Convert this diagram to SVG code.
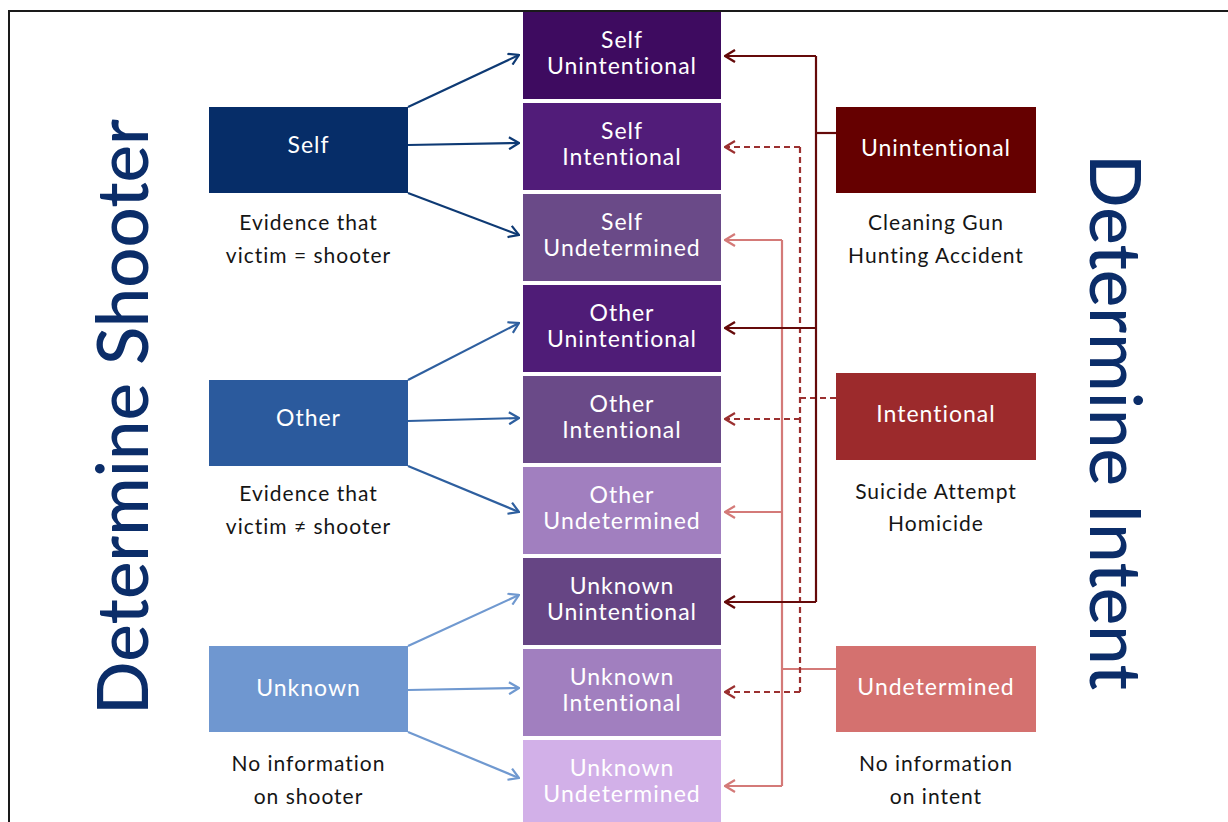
<svg xmlns="http://www.w3.org/2000/svg" width="1228" height="822" viewBox="0 0 1228 822">
<style>
.bt{font-family:"Lato","Liberation Sans",sans-serif;font-size:23px;fill:#ffffff;text-anchor:middle;letter-spacing:1px}
.cap{font-family:"Lato","Liberation Sans",sans-serif;font-size:21px;fill:#151515;text-anchor:middle;letter-spacing:1px}
.title{font-family:"Lato","Liberation Sans",sans-serif;font-size:72px;font-weight:500;fill:#0b2d69;text-anchor:middle}
.c{fill:none;stroke-width:2.2}
</style>
<defs>
<marker id="aS" viewBox="0 0 12 14" refX="11" refY="7" markerWidth="12" markerHeight="14" markerUnits="userSpaceOnUse" orient="auto"><path d="M1,1 L11,7 L1,13" fill="none" stroke="#0e3a74" stroke-width="2.2"/></marker>
<marker id="aO" viewBox="0 0 12 14" refX="11" refY="7" markerWidth="12" markerHeight="14" markerUnits="userSpaceOnUse" orient="auto"><path d="M1,1 L11,7 L1,13" fill="none" stroke="#2e5f9f" stroke-width="2.2"/></marker>
<marker id="aU" viewBox="0 0 12 14" refX="11" refY="7" markerWidth="12" markerHeight="14" markerUnits="userSpaceOnUse" orient="auto"><path d="M1,1 L11,7 L1,13" fill="none" stroke="#7099d0" stroke-width="2.2"/></marker>
<marker id="rU" viewBox="0 0 12 14" refX="11" refY="7" markerWidth="12" markerHeight="14" markerUnits="userSpaceOnUse" orient="auto"><path d="M1,1 L11,7 L1,13" fill="none" stroke="#650a0a" stroke-width="2.4"/></marker>
<marker id="rI" viewBox="0 0 12 14" refX="11" refY="7" markerWidth="12" markerHeight="14" markerUnits="userSpaceOnUse" orient="auto"><path d="M1,1 L11,7 L1,13" fill="none" stroke="#9b3030" stroke-width="2.2"/></marker>
<marker id="rD" viewBox="0 0 12 14" refX="11" refY="7" markerWidth="12" markerHeight="14" markerUnits="userSpaceOnUse" orient="auto"><path d="M1,1 L11,7 L1,13" fill="none" stroke="#d47a78" stroke-width="2.2"/></marker>
</defs>
<rect x="0" y="0" width="1228" height="822" fill="#ffffff"/>
<path d="M9,822 L9,11 L1228,11" fill="none" stroke="#1a1a1a" stroke-width="2"/>

<text class="title" transform="translate(148,417) rotate(-90)" textLength="596" lengthAdjust="spacingAndGlyphs">Determine Shooter</text>
<text class="title" transform="translate(1090,422) rotate(90)" textLength="536" lengthAdjust="spacingAndGlyphs">Determine Intent</text>

<g id="connectors">
<path class="c" stroke="#0e3a74" d="M408,107 L519,55" marker-end="url(#aS)"/>
<path class="c" stroke="#0e3a74" d="M408,145 L519,143" marker-end="url(#aS)"/>
<path class="c" stroke="#0e3a74" d="M408,193 L519,235" marker-end="url(#aS)"/>
<path class="c" stroke="#2e5f9f" d="M408,380 L519,323" marker-end="url(#aO)"/>
<path class="c" stroke="#2e5f9f" d="M408,421 L519,418" marker-end="url(#aO)"/>
<path class="c" stroke="#2e5f9f" d="M408,466 L519,512" marker-end="url(#aO)"/>
<path class="c" stroke="#7099d0" d="M408,646 L519,595" marker-end="url(#aU)"/>
<path class="c" stroke="#7099d0" d="M408,690 L519,688" marker-end="url(#aU)"/>
<path class="c" stroke="#7099d0" d="M408,732 L519,778" marker-end="url(#aU)"/>

<path class="c" stroke="#d47a78" d="M836,669 L782,669"/>
<path class="c" stroke="#d47a78" d="M782,240 L782,786"/>
<path class="c" stroke="#d47a78" d="M782,240 L725,240" marker-end="url(#rD)"/>
<path class="c" stroke="#d47a78" d="M782,512 L725,512" marker-end="url(#rD)"/>
<path class="c" stroke="#d47a78" d="M782,786 L725,786" marker-end="url(#rD)"/>

<path class="c" stroke="#9b3030" stroke-dasharray="6 4" d="M836,398 L800,398"/>
<path class="c" stroke="#9b3030" stroke-dasharray="6 4" d="M800,147 L800,692"/>
<path class="c" stroke="#9b3030" stroke-dasharray="6 4" d="M800,147 L725,147" marker-end="url(#rI)"/>
<path class="c" stroke="#9b3030" stroke-dasharray="6 4" d="M800,419 L725,419" marker-end="url(#rI)"/>
<path class="c" stroke="#9b3030" stroke-dasharray="6 4" d="M800,692 L725,692" marker-end="url(#rI)"/>

<path class="c" stroke="#650a0a" stroke-width="2.4" d="M836,133 L816,133"/>
<path class="c" stroke="#650a0a" stroke-width="2.4" d="M816,56 L816,602"/>
<path class="c" stroke="#650a0a" stroke-width="2.4" d="M816,56 L725,56" marker-end="url(#rU)"/>
<path class="c" stroke="#650a0a" stroke-width="2.4" d="M816,328 L725,328" marker-end="url(#rU)"/>
<path class="c" stroke="#650a0a" stroke-width="2.4" d="M816,602 L725,602" marker-end="url(#rU)"/>
</g>

<g id="self"><rect x="209" y="107" width="199" height="86" fill="#062d68"/><text class="bt" x="308.5" y="153">Self</text><text class="cap" x="308.5" y="230">Evidence that</text><text class="cap" x="308.5" y="263">victim = shooter</text></g>
<g id="other"><rect x="209" y="380" width="199" height="86" fill="#2b5a9d"/><text class="bt" x="308.5" y="426">Other</text><text class="cap" x="308.5" y="501">Evidence that</text><text class="cap" x="308.5" y="534">victim ≠ shooter</text></g>
<g id="unknown"><rect x="209" y="646" width="199" height="86" fill="#6f97d0"/><text class="bt" x="308.5" y="696">Unknown</text><text class="cap" x="308.5" y="771">No information</text><text class="cap" x="308.5" y="804">on shooter</text></g>

<g id="self-unintentional"><rect x="523" y="12" width="198" height="87" fill="#3e0b60"/><text class="bt" x="622" y="48">Self</text><text class="bt" x="622" y="74">Unintentional</text></g>
<g id="self-intentional"><rect x="523" y="103" width="198" height="87" fill="#511c79"/><text class="bt" x="622" y="139">Self</text><text class="bt" x="622" y="165">Intentional</text></g>
<g id="self-undetermined"><rect x="523" y="194" width="198" height="87" fill="#6a4a88"/><text class="bt" x="622" y="230">Self</text><text class="bt" x="622" y="256">Undetermined</text></g>
<g id="other-unintentional"><rect x="523" y="285" width="198" height="87" fill="#4f1c77"/><text class="bt" x="622" y="321">Other</text><text class="bt" x="622" y="347">Unintentional</text></g>
<g id="other-intentional"><rect x="523" y="376" width="198" height="87" fill="#6a4a88"/><text class="bt" x="622" y="412">Other</text><text class="bt" x="622" y="438">Intentional</text></g>
<g id="other-undetermined"><rect x="523" y="467" width="198" height="87" fill="#a17fbf"/><text class="bt" x="622" y="503">Other</text><text class="bt" x="622" y="529">Undetermined</text></g>
<g id="unknown-unintentional"><rect x="523" y="558" width="198" height="87" fill="#664584"/><text class="bt" x="622" y="594">Unknown</text><text class="bt" x="622" y="620">Unintentional</text></g>
<g id="unknown-intentional"><rect x="523" y="649" width="198" height="87" fill="#a17fbf"/><text class="bt" x="622" y="685">Unknown</text><text class="bt" x="622" y="711">Intentional</text></g>
<g id="unknown-undetermined"><rect x="523" y="740" width="198" height="87" fill="#d2b0e8"/><text class="bt" x="622" y="776">Unknown</text><text class="bt" x="622" y="802">Undetermined</text></g>

<g id="unintentional"><rect x="836" y="107" width="200" height="86" fill="#650000"/><text class="bt" x="936" y="156">Unintentional</text><text class="cap" x="936" y="230">Cleaning Gun</text><text class="cap" x="936" y="263">Hunting Accident</text></g>
<g id="intentional"><rect x="836" y="373" width="200" height="87" fill="#9c2a2c"/><text class="bt" x="936" y="422">Intentional</text><text class="cap" x="936" y="499">Suicide Attempt</text><text class="cap" x="936" y="531">Homicide</text></g>
<g id="undetermined"><rect x="836" y="646" width="200" height="86" fill="#d4716f"/><text class="bt" x="936" y="695">Undetermined</text><text class="cap" x="936" y="771">No information</text><text class="cap" x="936" y="804">on intent</text></g>
</svg>
